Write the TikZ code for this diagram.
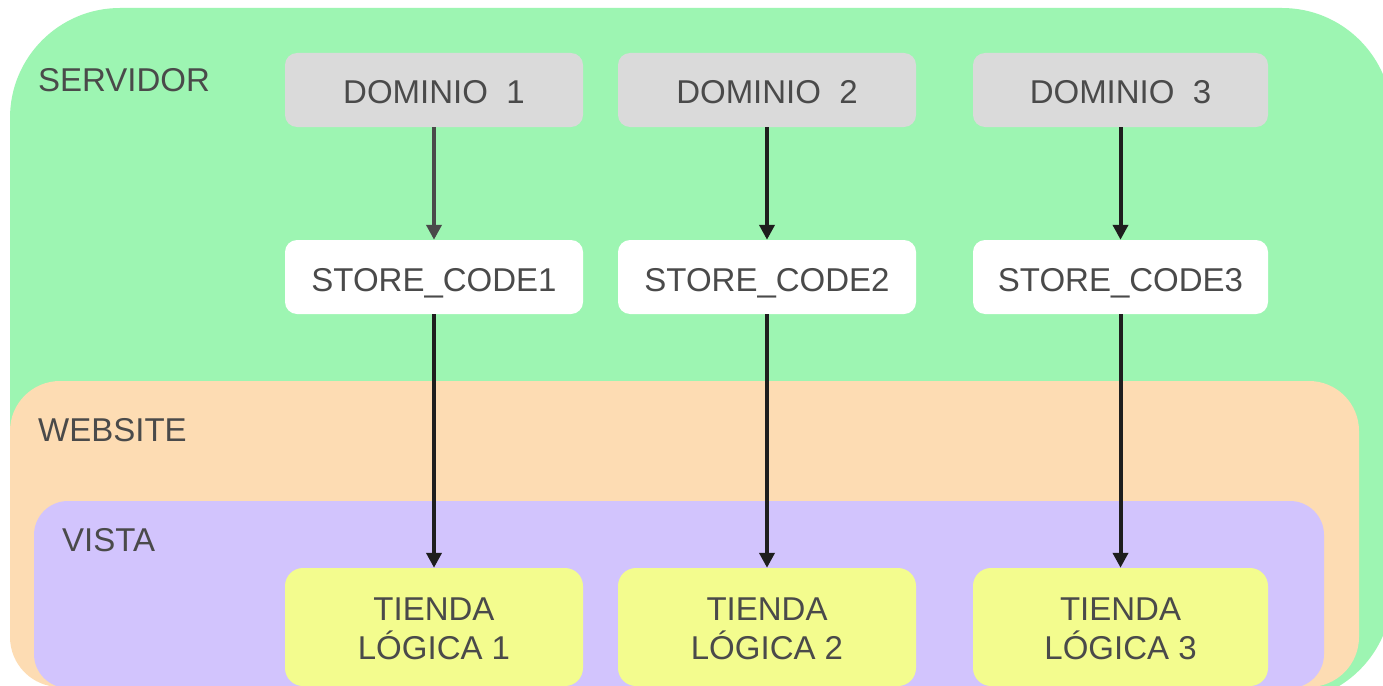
\documentclass[tikz,border=0pt]{standalone}
\usepackage{fontspec}
\setmainfont{Liberation Sans}
\usetikzlibrary{arrows.meta}
\definecolor{servgreen}{HTML}{9DF5B2}
\definecolor{weborange}{HTML}{FDDCB3}
\definecolor{vistapurple}{HTML}{D2C4FD}
\definecolor{tiendayellow}{HTML}{F3FC8E}
\definecolor{domgrey}{HTML}{DADADA}
\definecolor{txtgrey}{HTML}{4A4A4A}
\definecolor{arrdark}{HTML}{1E1E1E}
\tikzset{
  lbl/.style={anchor=base west, text=txtgrey, font=\fontsize{33}{39}\selectfont, inner sep=0pt},
  boxbase/.style={rectangle, rounded corners=12pt, text=txtgrey, font=\fontsize{33}{39}\selectfont, inner sep=0pt, align=center},
  dombox/.style={boxbase, fill=domgrey, minimum width=298pt, minimum height=74pt, text height=26pt, text depth=0pt},
  codebox/.style={boxbase, fill=white, minimum width=298pt, minimum height=74pt, text height=29pt, text depth=0pt},
  tiendabox/.style={boxbase, fill=tiendayellow, rounded corners=18pt, minimum width=298pt, minimum height=118pt, text height=64pt, text depth=0pt},
  conn/.style={line width=4pt, arrdark, -{Triangle[length=15pt,width=15pt]}},
}
\begin{document}
\begin{tikzpicture}[x=1pt,y=-1pt]
\useasboundingbox (0,0) rectangle (1383,685);
\clip (0,0) rectangle (1383,685);
\fill[white] (0,0) rectangle (1383,685);
% regions
\fill[servgreen, rounded corners=110pt] (10,8) rectangle (1392,702);
\fill[weborange, rounded corners=50pt] (10,381) rectangle (1359,687);
\fill[vistapurple, rounded corners=34pt] (34,501) rectangle (1324,688);
% region labels
\node[lbl] (servidor) at (38,91) {SERVIDOR};
\node[lbl] (website) at (38,441) {WEBSITE};
\node[lbl] (vista) at (62,551) {VISTA};
% boxes
\node[dombox] (d1) at (434,90) {DOMINIO\ \ 1};
\node[dombox] (d2) at (767,90) {DOMINIO\ \ 2};
\node[dombox, minimum width=295pt] (d3) at (1120.5,90) {DOMINIO\ \ 3};
\node[codebox] (s1) at (434,277) {STORE\_CODE1};
\node[codebox] (s2) at (767,277) {STORE\_CODE2};
\node[codebox, minimum width=295pt] (s3) at (1120.5,277) {STORE\_CODE3};
\node[tiendabox] (t1) at (434,627) {TIENDA\\LÓGICA 1};
\node[tiendabox] (t2) at (767,627) {TIENDA\\LÓGICA 2};
\node[tiendabox, minimum width=295pt] (t3) at (1120.5,627) {TIENDA\\LÓGICA 3};
% connectors
\draw[conn, draw=txtgrey, fill=txtgrey] (d1) -- (s1);
\draw[conn] (d2) -- (s2);
\draw[conn] (d3) -- (s3);
\draw[conn] (s1) -- (t1);
\draw[conn] (s2) -- (t2);
\draw[conn] (s3) -- (t3);
\end{tikzpicture}
\end{document}
